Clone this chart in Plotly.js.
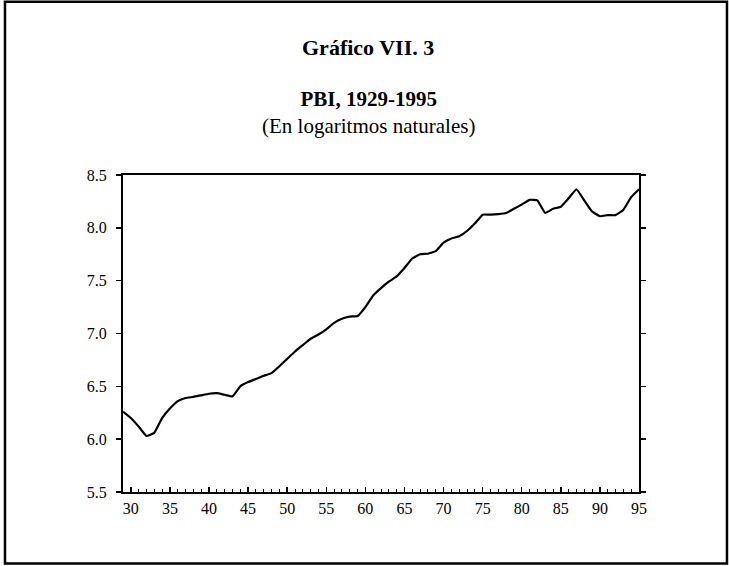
<!DOCTYPE html>
<html>
<head>
<meta charset="utf-8">
<script src="https://cdn.plot.ly/plotly-3.0.1.min.js"></script>
<style>html,body{margin:0;padding:0;background:#fff;}#chart{width:729px;height:566px;}</style>
</head>
<body>
<div id="chart"></div>
<script>
// Years 1929-1995
const years = [1929,1930,1931,1932,1933,1934,1935,1936,1937,1938,1939,
  1940,1941,1942,1943,1944,1945,1946,1947,1948,1949,
  1950,1951,1952,1953,1954,1955,1956,1957,1958,1959,
  1960,1961,1962,1963,1964,1965,1966,1967,1968,1969,
  1970,1971,1972,1973,1974,1975,1976,1977,1978,1979,
  1980,1981,1982,1983,1984,1985,1986,1987,1988,1989,
  1990,1991,1992,1993,1994,1995];
// PBI in natural logarithms
const lnPBI = [6.26,6.20,6.12,6.03,6.06,6.20,6.29,6.36,6.39,6.40,6.415,
  6.43,6.435,6.42,6.405,6.50,6.54,6.57,6.60,6.625,6.69,
  6.76,6.83,6.89,6.95,6.99,7.04,7.10,7.14,7.16,7.165,
  7.25,7.36,7.43,7.49,7.54,7.62,7.71,7.75,7.755,7.78,
  7.86,7.90,7.92,7.97,8.04,8.125,8.125,8.13,8.14,8.18,
  8.22,8.265,8.26,8.14,8.18,8.20,8.28,8.365,8.26,8.155,
  8.11,8.12,8.12,8.17,8.29,8.365];
const xTickVals = [1930,1935,1940,1945,1950,1955,1960,1965,1970,1975,1980,1985,1990,1995];
const xTickText = ['30','35','40','45','50','55','60','65','70','75','80','85','90','95'];
const yTickVals = [5.5,6.0,6.5,7.0,7.5,8.0,8.5];
const yTickText = ['5.5','6.0','6.5','7.0','7.5','8.0','8.5'];
const titleMain = 'Gráfico VII. 3';
const titleSub = 'PBI, 1929-1995';
const titleNote = '(En logaritmos naturales)';

const serif = 'Liberation Serif';

const trace = {
  x: years, y: lnPBI, type: 'scatter', mode: 'lines',
  line: {color: '#000', width: 2.2, shape: 'spline', smoothing: 0.3},
  hoverinfo: 'skip'
};

const layout = {
  width: 729, height: 566,
  margin: {l: 123, r: 90, t: 175, b: 74},
  paper_bgcolor: '#fff', plot_bgcolor: '#fff',
  showlegend: false,
  font: {family: serif, color: '#000', size: 16},
  xaxis: {
    range: [1929, 1995], tickmode: 'array', tickvals: xTickVals, ticktext: xTickText,
    ticks: 'inside', ticklen: 5, tickwidth: 1.5, tickcolor: '#000',
    minor: {tickmode: 'linear', tick0: 1929, dtick: 1, ticks: 'inside', ticklen: 3, tickwidth: 1, tickcolor: '#000'},
    showline: true, linecolor: '#000', linewidth: 2, mirror: true,
    showgrid: false, zeroline: false, ticklabelstandoff: 1,
    tickfont: {family: serif, size: 16, color: '#000'}
  },
  yaxis: {
    range: [5.5, 8.5], tickmode: 'array', tickvals: yTickVals, ticktext: yTickText,
    ticks: 'outside', ticklen: 5, tickwidth: 1.5, tickcolor: '#000',
    showline: true, linecolor: '#000', linewidth: 2, mirror: 'ticks',
    showgrid: false, zeroline: false, ticklabelstandoff: 6,
    tickfont: {family: serif, size: 16, color: '#000'}
  },
  annotations: [
    {text: '<b>' + titleMain + '</b>', xref: 'paper', yref: 'paper', x: 0.475, y: 1.401,
     xanchor: 'center', yanchor: 'middle', showarrow: false, font: {family: serif, size: 22, color: '#000'}},
    {text: '<b>' + titleSub + '</b><br>' + titleNote, xref: 'paper', yref: 'paper', x: 0.475, y: 1.196,
     xanchor: 'center', yanchor: 'middle', showarrow: false, align: 'center',
     font: {family: serif, size: 21, color: '#000'}}
  ],
  shapes: [
    {type: 'rect', xref: 'paper', yref: 'paper', x0: -0.2287, x1: 1.1705, y0: -0.2259, y1: 1.5466,
     line: {color: '#000', width: 2.5}, fillcolor: 'rgba(0,0,0,0)', layer: 'above'}
  ]
};

Plotly.newPlot('chart', [trace], layout, {displayModeBar: false, staticPlot: true});
</script>
</body>
</html>
